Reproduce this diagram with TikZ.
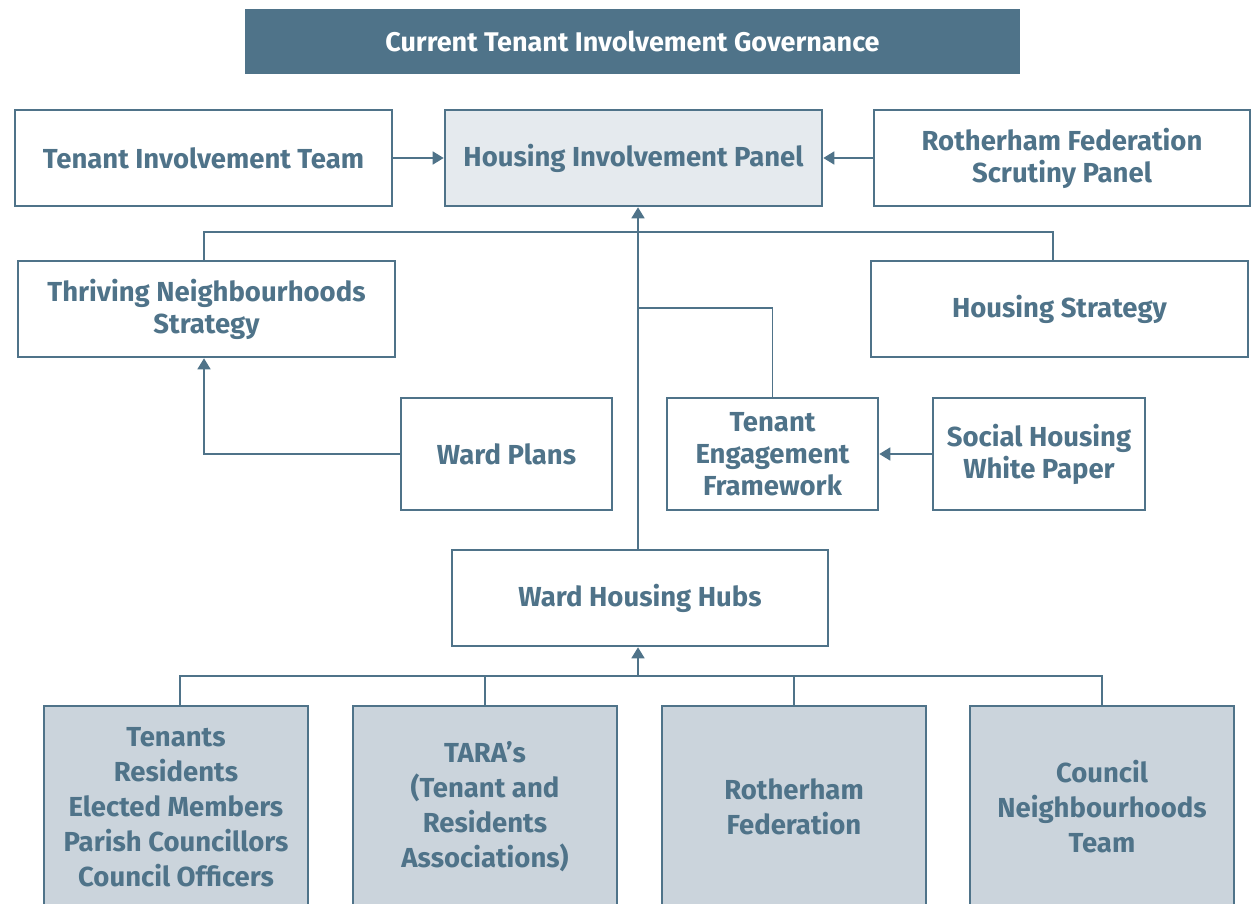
\documentclass[tikz,border=0pt]{standalone}
\usepackage{fontspec}
\setmainfont{Fira Sans}
\usetikzlibrary{arrows.meta}
\definecolor{main}{RGB}{79,115,137}
\definecolor{lightfill}{RGB}{229,234,238}
\definecolor{botfill}{RGB}{203,212,220}
\begin{document}
\begin{tikzpicture}[x=1pt,y=-1pt,
  box/.style={draw=main, line width=2.6pt, fill=white, text=main, align=center, inner sep=0pt,
    font=\fontsize{27.5}{32}\selectfont\bfseries},
  botbox/.style={box, fill=botfill, font=\fontsize{27.5}{35}\selectfont\bfseries},
  conn/.style={draw=main, line width=1.6pt},
  arr/.style={conn, -{Triangle[width=13pt,length=11pt]}}
]
\useasboundingbox (0,0) rectangle (1254,904);
\node[fill=main, text=white, minimum width=775pt, minimum height=65pt, inner sep=0pt,
  font=\fontsize{27}{30}\selectfont\bfseries] (title) at (632.5,41.5) {Current Tenant Involvement Governance};

\node[box, minimum width=377pt, minimum height=96pt] (TIT) at (203.5,158) {Tenant Involvement Team};
\node[box, fill=lightfill, minimum width=377pt, minimum height=96pt] (HIP) at (633.5,158) {Housing Involvement Panel};
\node[box, minimum width=376pt, minimum height=96pt] (RFSP) at (1062,158) {Rotherham Federation\\Scrutiny Panel};
\node[box, minimum width=377pt, minimum height=96pt] (TNS) at (206.5,309) {Thriving Neighbourhoods\\Strategy};
\node[box, minimum width=377pt, minimum height=96pt] (HS) at (1059.5,309) {Housing Strategy};
\node[box, minimum width=211pt, minimum height=112pt] (WP) at (506.5,454) {Ward Plans};
\node[box, minimum width=211pt, minimum height=112pt] (TEF) at (772.5,454) {Tenant\\Engagement\\Framework};
\node[box, minimum width=212pt, minimum height=112pt] (SHWP) at (1039,454) {Social Housing\\White Paper};
\node[box, minimum width=376pt, minimum height=96pt] (WHH) at (640,598) {Ward Housing Hubs};

\node[botbox, minimum width=264pt, minimum height=202pt] (B1) at (176,807) {Tenants\\Residents\\Elected Members\\Parish Councillors\\Council Officers};
\node[botbox, minimum width=264pt, minimum height=202pt] (B2) at (485,807) {TARA’s\\(Tenant and\\Residents\\Associations)};
\node[botbox, minimum width=264pt, minimum height=202pt] (B3) at (794,807) {Rotherham\\Federation};
\node[botbox, minimum width=264pt, minimum height=202pt] (B4) at (1102,807) {Council\\Neighbourhoods\\Team};

\coordinate (topj) at (638,232);
\coordinate (tefj) at (638,308);
\coordinate (botj) at (638,676);
\coordinate (tnsx) at (204,0);
\coordinate (hsx) at (1053,0);
\coordinate (b1x) at (180,0);

\draw[arr] (TIT.east) -- (HIP.west);
\draw[arr] (RFSP.west) -- (HIP.east);
\draw[arr] (WHH.north -| topj) -- (HIP.south -| topj);
\draw[conn] (TNS.north -| tnsx) -- (tnsx |- topj) -- (hsx |- topj) -- (HS.north -| hsx);
\draw[conn] (TEF.north) |- (tefj);
\draw[arr] (WP.west) -| (TNS.south -| tnsx);
\draw[arr] (SHWP.west) -- (TEF.east);
\draw[conn] (B1.north -| b1x) -- (b1x |- botj) -- (B4.north |- botj) -- (B4.north);
\draw[conn] (B2.north) -- (B2.north |- botj);
\draw[conn] (B3.north) -- (B3.north |- botj);
\draw[arr] (botj) -- (WHH.south -| botj);
\end{tikzpicture}
\end{document}
